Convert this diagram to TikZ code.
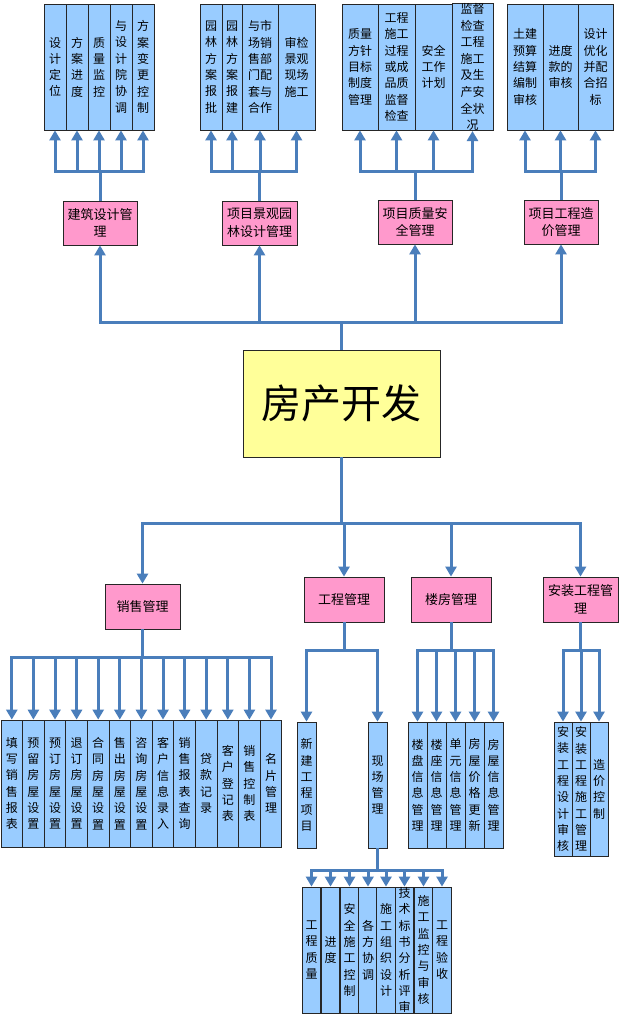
\documentclass[tikz,border=0pt]{standalone}
\usepackage{fontspec}
\setmainfont{Noto Sans CJK SC}
\usetikzlibrary{arrows.meta}
\definecolor{lnc}{RGB}{74,126,187}
\definecolor{bluef}{RGB}{153,204,255}
\definecolor{pinkf}{RGB}{255,153,204}
\definecolor{yelf}{RGB}{255,255,153}
\tikzset{
  leaf/.style={draw=black!85, line width=0.8pt, fill=bluef, inner sep=0pt, align=center,
    font=\fontsize{12}{16.3}\selectfont},
  mgr/.style={draw=black!85, line width=0.8pt, fill=pinkf, inner sep=0pt, align=center,
    minimum width=75pt, minimum height=45pt, font=\fontsize{13}{17.5}\selectfont},
  rootbox/.style={draw=black!85, line width=0.8pt, fill=yelf, inner sep=0pt, align=center,
    minimum width=197pt, minimum height=107pt, font=\fontsize{40}{44}\selectfont},
  link/.style={draw=lnc, line width=3pt},
  arr/.style={link, -{Triangle[width=11pt,length=10pt]}},
}
\begin{document}
\begin{tikzpicture}[x=1pt,y=-1pt]
\useasboundingbox (0,0) rectangle (619,1016);
\fill[white] (0,0) rectangle (619,1016);
\clip (0,0) rectangle (619,1016);

% ---------- top leaves ----------
\begin{scope}[every node/.append style={minimum height=126pt}]
\node[leaf, minimum width=22pt] (t11) at (55,67) {设\\计\\定\\位};
\node[leaf, minimum width=22pt] (t12) at (77,67) {方\\案\\进\\度};
\node[leaf, minimum width=22pt] (t13) at (99,67) {质\\量\\监\\控};
\node[leaf, minimum width=22pt] (t14) at (121,67) {与\\设\\计\\院\\协\\调};
\node[leaf, minimum width=22pt] (t15) at (143,67) {方\\案\\变\\更\\控\\制};

\node[leaf, minimum width=22pt] (t21) at (211,67) {园\\林\\方\\案\\报\\批};
\node[leaf, minimum width=20pt] (t22) at (232,67) {园\\林\\方\\案\\报\\建};
\node[leaf, minimum width=36pt] (t23) at (260,67) {与市\\场销\\售部\\门配\\套与\\合作};
\node[leaf, minimum width=37pt] (t24) at (296.5,67) {审检\\景观\\现场\\施工};

\node[leaf, minimum width=36pt] (t31) at (360,67) {质量\\方针\\目标\\制度\\管理};
\node[leaf, minimum width=37pt] (t32) at (396.5,67) {工程\\施工\\过程\\或成\\品质\\监督\\检查};
\node[leaf, minimum width=37pt] (t33) at (433.5,67) {安全\\工作\\计划};
\node[leaf, minimum width=41pt] (t34) at (472.5,67) {\raisebox{4pt}{\parbox{41pt}{\centering\fontsize{12}{16.6}\selectfont 监督\\检查\\工程\\施工\\及生\\产安\\全状\\况}}};

\node[leaf, minimum width=36pt] (t41) at (525,67) {土建\\预算\\结算\\编制\\审核};
\node[leaf, minimum width=35pt] (t42) at (560.5,67) {进度\\款的\\审核};
\node[leaf, minimum width=35pt] (t43) at (595.5,67) {设计\\优化\\并配\\合招\\标};
\end{scope}

% ---------- managers (upper) ----------
\node[mgr, minimum width=74pt, minimum height=44pt] (p1) at (100,223) {建筑设计管\\理};
\node[mgr, minimum height=44pt] (p2) at (259.5,223) {项目景观园\\林设计管理};
\node[mgr, minimum width=74pt, minimum height=44pt] (p3) at (415,222) {项目质量安\\全管理};
\node[mgr, minimum width=74pt, minimum height=44pt] (p4) at (561,222) {项目工程造\\价管理};

% ---------- root ----------
\node[rootbox] (root) at (341.5,403.5) {房产开发};

% ---------- managers (lower) ----------
\node[mgr] (s1) at (142.5,606.5) {销售管理};
\node[mgr, minimum width=80pt] (e1) at (344,599.5) {工程管理};
\node[mgr, minimum width=80pt] (l1) at (451,599.5) {楼房管理};
\node[mgr] (a1) at (580.5,599.5) {安装工程管\\理};

% ---------- sales leaves ----------
\begin{scope}[every node/.append style={minimum width=21.6pt, minimum height=127pt}]
\node[leaf] (sa1) at (11.8,783.5) {填\\写\\销\\售\\报\\表};
\node[leaf] (sa2) at (33.4,783.5) {预\\留\\房\\屋\\设\\置};
\node[leaf] (sa3) at (55,783.5) {预\\订\\房\\屋\\设\\置};
\node[leaf] (sa4) at (76.6,783.5) {退\\订\\房\\屋\\设\\置};
\node[leaf] (sa5) at (98.2,783.5) {合\\同\\房\\屋\\设\\置};
\node[leaf] (sa6) at (119.8,783.5) {售\\出\\房\\屋\\设\\置};
\node[leaf] (sa7) at (141.4,783.5) {咨\\询\\房\\屋\\设\\置};
\node[leaf] (sa8) at (163,783.5) {客\\户\\信\\息\\录\\入};
\node[leaf] (sa9) at (184.6,783.5) {销\\售\\报\\表\\查\\询};
\node[leaf] (sa10) at (206.2,783.5) {贷\\款\\记\\录};
\node[leaf] (sa11) at (227.8,783.5) {客\\户\\登\\记\\表};
\node[leaf] (sa12) at (249.4,783.5) {销\\售\\控\\制\\表};
\node[leaf] (sa13) at (271,783.5) {名\\片\\管\\理};
\end{scope}

% ---------- engineering leaves ----------
\node[leaf, minimum width=19pt, minimum height=126pt] (n1) at (306.5,785) {新\\建\\工\\程\\项\\目};
\node[leaf, minimum width=19pt, minimum height=126pt] (x1) at (377.5,785) {现\\场\\管\\理};

\begin{scope}[every node/.append style={minimum width=18.6pt, minimum height=126pt}]
\node[leaf] (b1) at (311.5,950) {工\\程\\质\\量};
\node[leaf] (b2) at (330.5,950) {进\\度};
\node[leaf] (b3) at (349.5,950) {安\\全\\施\\工\\控\\制};
\node[leaf] (b4) at (368,950) {各\\方\\协\\调};
\node[leaf] (b5) at (386,950) {施\\工\\组\\织\\设\\计};
\node[leaf] (b6) at (404.5,950) {技\\术\\标\\书\\分\\析\\评\\审};
\node[leaf] (b7) at (423.5,950) {施\\工\\监\\控\\与\\审\\核};
\node[leaf] (b8) at (442,950) {工\\程\\验\\收};
\end{scope}

% ---------- building leaves ----------
\begin{scope}[every node/.append style={minimum width=19pt, minimum height=126pt}]
\node[leaf] (f1) at (417.5,785) {楼\\盘\\信\\息\\管\\理};
\node[leaf] (f2) at (436.5,785) {楼\\座\\信\\息\\管\\理};
\node[leaf] (f3) at (455.5,785) {单\\元\\信\\息\\管\\理};
\node[leaf] (f4) at (474.5,785) {房\\屋\\价\\格\\更\\新};
\node[leaf] (f5) at (493.5,785) {房\\屋\\信\\息\\管\\理};
\end{scope}

% ---------- installation leaves ----------
\begin{scope}[every node/.append style={minimum width=18pt, minimum height=134pt}]
\node[leaf] (g1) at (563,789) {安\\装\\工\\程\\设\\计\\审\\核};
\node[leaf] (g2) at (581,789) {安\\装\\工\\程\\施\\工\\管\\理};
\node[leaf] (g3) at (599,789) {造\\价\\控\\制};
\end{scope}

% ---------- junctions ----------
\coordinate (j1) at (100,172);
\coordinate (j2) at (259.5,172);
\coordinate (j3) at (415,172);
\coordinate (j4) at (561,172);
\coordinate (mj) at (341.5,322);
\coordinate (mb) at (341.5,523);
\coordinate (sj) at (142.5,657);
\coordinate (ej) at (344,650);
\coordinate (lj) at (451,650);
\coordinate (aj) at (580.5,650);
\coordinate (xj) at (377.5,870);

% ---------- connectors ----------
\draw[link] (root.north) -- (mj);
\foreach \p in {p1,p2,p3,p4} \draw[arr] (mj) -| (\p.south);

\draw[link] (p1.north) -- (j1);
\foreach \n in {t11,t12,t13,t14,t15} \draw[arr] (j1) -| (\n.south);
\draw[link] (p2.north) -- (j2);
\foreach \n in {t21,t22,t23,t24} \draw[arr] (j2) -| (\n.south);
\draw[link] (p3.north) -- (j3);
\foreach \n in {t31,t32,t33,t34} \draw[arr] (j3) -| (\n.south);
\draw[link] (p4.north) -- (j4);
\foreach \n in {t41,t42,t43} \draw[arr] (j4) -| (\n.south);

\draw[link] (root.south) -- (mb);
\foreach \p in {s1,e1,l1,a1} \draw[arr] (mb) -| (\p.north);

\draw[link] (s1.south) -- (sj);
\foreach \n in {sa1,sa2,sa3,sa4,sa5,sa6,sa7,sa8,sa9,sa10,sa11,sa12,sa13} \draw[arr] (sj) -| (\n.north);

\draw[link] (e1.south) -- (ej);
\foreach \n in {n1,x1} \draw[arr] (ej) -| (\n.north);

\draw[link] (x1.south) -- (xj);
\foreach \n in {b1,b2,b3,b4,b5,b6,b7,b8} \draw[arr] (xj) -| (\n.north);

\draw[link] (l1.south) -- (lj);
\foreach \n in {f1,f2,f3,f4,f5} \draw[arr] (lj) -| (\n.north);

\draw[link] (a1.south) -- (aj);
\foreach \n in {g1,g2,g3} \draw[arr] (aj) -| (\n.north);
\end{tikzpicture}
\end{document}
